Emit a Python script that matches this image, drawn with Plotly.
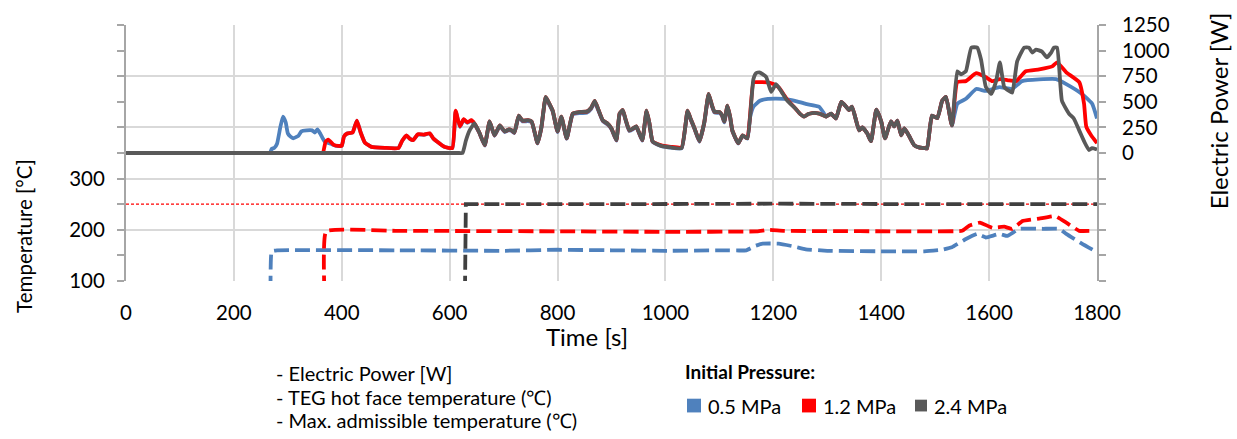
import plotly.graph_objects as go

# ---------------- data ----------------
# Electric power [W], 0.5 MPa
t_p05 = [0, 250, 262, 267, 270, 275, 280, 286, 291, 296, 300, 305, 310, 320, 325, 335, 345, 350, 355, 360, 368, 380, 390, 400,
         404, 410, 420, 428, 435, 443, 455, 480, 505, 512, 520, 526, 532, 541, 552, 563, 570, 577, 590, 605, 611, 619,
         626, 633, 640, 646, 655, 665, 674, 683, 693, 702, 710, 715, 720, 728, 735, 745, 752, 763, 770, 778, 785, 791,
         800, 807, 817, 828, 840, 854, 862, 869, 876, 884, 892, 900, 909, 915, 921, 926, 933, 940, 946, 957, 965, 970,
         976, 985, 994, 1010, 1030, 1041, 1047, 1054, 1063, 1072, 1080, 1086, 1091, 1100, 1105, 1109, 1115, 1120, 1124,
         1135, 1143, 1152, 1157, 1163, 1175, 1190, 1220, 1240, 1260, 1285, 1294, 1298, 1307, 1316, 1326, 1335, 1340,
         1346, 1359, 1365, 1374, 1381, 1391, 1400, 1407, 1418, 1424, 1430, 1437, 1443, 1452, 1461, 1470, 1480, 1485,
         1494, 1504, 1513, 1520, 1531, 1541, 1557, 1576, 1594, 1619, 1643, 1661, 1724, 1743, 1772, 1791, 1800]
p05 = [0, 0, 0, 0, 40, 50, 90, 250, 356, 300, 192, 160, 144, 170, 211, 221, 221, 200, 231, 190, 115, 90, 70, 70,
       160, 190, 200, 317, 200, 100, 60, 50, 48, 120, 170, 140, 125, 180, 178, 190, 140, 110, 60, 48, 405, 255,
       325, 295, 315, 280, 195, 72, 300, 168, 262, 205, 224, 215, 195, 355, 308, 312, 300, 92, 244, 535, 470, 405,
       205, 348, 140, 375, 390, 392, 430, 495, 410, 310, 282, 232, 120, 375, 410, 322, 215, 233, 253, 120, 405, 292,
       110, 82, 65, 53, 46, 405, 322, 233, 110, 292, 565, 460, 395, 392, 362, 300, 452, 342, 215,
       92, 168, 140, 350, 452, 510, 529, 529, 510, 480, 452, 385, 356, 385, 337, 500, 452, 420,
       452, 221, 250, 192, 115, 423, 308, 144, 308, 260, 317, 173, 240, 163, 77, 55, 48, 45,
       365, 340, 510, 548, 269, 481, 529, 625, 606, 644, 625, 702, 721, 673, 577, 481, 337]

# Electric power [W], 1.2 MPa
t_p12 = [0, 340, 358, 365, 370, 375, 385, 393, 400, 404, 410, 420, 428, 435, 443, 455, 480, 505, 512, 520, 526, 532, 541, 552,
         563, 570, 577, 590, 605, 611, 619, 626, 633, 640, 646, 655, 665, 674, 683, 693, 702, 710, 715, 720, 728, 735,
         745, 752, 763, 770, 778, 785, 791, 800, 807, 817, 828, 840, 854, 862, 869, 876, 884, 892, 900, 909, 915, 921,
         926, 933, 940, 946, 957, 965, 970, 976, 985, 994, 1010, 1030, 1041, 1047, 1054, 1063, 1072, 1080, 1086, 1091,
         1100, 1105, 1109, 1115, 1120, 1124, 1135, 1143, 1152, 1163, 1170, 1190, 1200, 1210, 1226, 1240, 1250, 1257,
         1265, 1272, 1285, 1298, 1307, 1316, 1326, 1335, 1340, 1346, 1359, 1365, 1374, 1381, 1391, 1400, 1407, 1418,
         1424, 1430, 1437, 1443, 1452, 1461, 1470, 1480, 1485, 1494, 1504, 1513, 1520, 1531, 1541, 1557, 1576, 1594,
         1606, 1620, 1635, 1650, 1668, 1693, 1717, 1726, 1743, 1767, 1776, 1780, 1789, 1800]
p12 = [0, 0, 0, 0, 110, 130, 80, 70, 70, 160, 190, 200, 317, 200, 100, 60, 50, 48, 120, 173, 140, 125, 183, 180,
       192, 140, 110, 60, 48, 413, 260, 330, 300, 320, 288, 200, 77, 308, 173, 269, 211, 230, 221, 200, 365, 317,
       320, 308, 96, 250, 548, 480, 413, 211, 356, 144, 385, 400, 404, 440, 510, 420, 317, 290, 240, 125, 385, 420,
       330, 221, 240, 260, 125, 413, 300, 115, 88, 72, 60, 55, 413, 330, 240, 115, 300, 577, 470, 404,
       400, 370, 308, 462, 350, 221, 96, 173, 144, 690, 692, 690, 673, 640, 520, 440, 380, 356,
       380, 390, 385, 356, 385, 337, 500, 452, 420, 452, 221, 250, 192, 115, 423, 308, 144, 308,
       260, 317, 173, 240, 163, 77, 55, 48, 45, 365, 340, 510, 548, 269, 692, 702, 779, 740,
       702, 721, 710, 702, 798, 817, 846, 885, 788, 692, 481, 260, 173, 96]

# Electric power [W], 2.4 MPa
t_p24 = [0, 600, 618, 624, 630, 637, 646, 655, 665, 674, 683, 693, 702, 710, 715, 720, 728, 735, 745, 752, 763, 770, 778, 785,
         791, 800, 807, 817, 828, 840, 854, 862, 869, 876, 884, 892, 900, 909, 915, 921, 926, 933, 940, 946, 957, 965,
         970, 976, 985, 994, 1010, 1030, 1041, 1047, 1054, 1063, 1072, 1080, 1086, 1091, 1100, 1105, 1109, 1115, 1120,
         1124, 1135, 1143, 1152, 1163, 1168, 1174, 1180, 1187, 1196, 1205, 1215, 1226, 1240, 1250, 1257, 1265, 1272,
         1285, 1298, 1307, 1316, 1326, 1335, 1340, 1346, 1359, 1365, 1374, 1381, 1391, 1400, 1407, 1418, 1424, 1430,
         1437, 1443, 1452, 1461, 1470, 1480, 1485, 1494, 1504, 1513, 1520, 1531, 1541, 1548, 1557, 1567, 1578, 1585,
         1594, 1604, 1613, 1620, 1628, 1637, 1643, 1652, 1665, 1674, 1680, 1687, 1698, 1707, 1715, 1720, 1726, 1735,
         1748, 1757, 1767, 1776, 1785, 1791, 1800]
p24 = [0, 0, 0, 0, 120, 221, 288, 200, 77, 308, 173, 269, 211, 230, 221, 200, 365, 317, 320, 308, 96, 250, 548, 480,
       413, 211, 356, 144, 385, 400, 404, 440, 510, 420, 317, 290, 240, 125, 385, 420, 330, 221, 240, 260, 125, 413,
       300, 115, 85, 67, 55, 48, 413, 330, 240, 115, 300, 577, 470, 404, 400, 370, 308, 462, 350,
       221, 96, 173, 144, 721, 780, 788, 770, 740, 596, 673, 600, 510, 440, 380, 356, 380, 390,
       385, 356, 385, 337, 500, 452, 420, 452, 221, 250, 192, 115, 423, 308, 144, 308, 260, 317,
       173, 240, 163, 77, 55, 48, 45, 365, 340, 510, 548, 269, 798, 769, 800, 1029, 1029, 913,
       644, 577, 702, 885, 644, 606, 590, 894, 1029, 1029, 981, 1010, 990, 933, 980, 1029, 1029, 510,
       385, 337, 221, 115, 29, 48, 35]

# TEG hot face temperature [°C]
t_T05 = [268, 270, 280, 500, 700, 800, 900, 1000, 1100, 1150, 1165, 1180, 1210, 1240, 1260, 1300, 1400, 1480,
         1513, 1531, 1557, 1578, 1594, 1619, 1634, 1656, 1700, 1730, 1743, 1772, 1797]
T05 = [40, 158, 160, 160, 159, 161, 160, 159, 160, 160, 168, 173, 173, 167, 162, 159, 158, 158,
       161, 166, 182, 192, 185, 192, 188, 202, 202, 202, 192, 173, 158]

t_T12 = [369, 371, 500, 800, 1000, 1170, 1190, 1220, 1500, 1550, 1563, 1583, 1606, 1628, 1643, 1662, 1693, 1722,
         1743, 1767, 1791]
T12 = [40, 197, 198, 197, 196, 197, 200, 198, 197, 198, 208, 214, 204, 206, 202, 217, 222, 227,
       214, 198, 198]

t_T24 = [628, 630, 900, 1200, 1500, 1700, 1800]
T24 = [40, 250, 250, 251, 250, 249, 250]

# Max. admissible temperature [°C]
t_Tmax = [0, 1800]
Tmax = [250, 250]

# axis ticks
x_ticks = [0, 200, 400, 600, 800, 1000, 1200, 1400, 1600, 1800]
temp_tickvals = [100, 200, 300, 400, 500, 600]
temp_ticktext = ["100", "200", "300", "", "", ""]
pow_tickvals = [-1250, -1000, -750, -500, -250, 0, 250, 500, 750, 1000, 1250]
pow_ticktext = ["", "", "", "", "", "0", "250", "500", "750", "1000", "1250"]

series_names = ["0.5 MPa", "1.2 MPa", "2.4 MPa"]

# ---------------- style ----------------
C_BLUE = "#4F81BD"
C_RED = "#FF0000"
C_GRAY = "#595959"
FONT = "Lato"
AXIS_GRAY = "#A6A6A6"
GRID = "#D9D9D9"
TICK_SIZE = 20.5

fig = go.Figure()

dash = "15px,6px"
fig.add_trace(go.Scatter(x=t_Tmax, y=Tmax, mode="lines", line=dict(color=C_RED, width=1.2, dash="3px,2px"),
                         showlegend=False, yaxis="y"))
fig.add_trace(go.Scatter(x=t_T05, y=T05, mode="lines", line=dict(color=C_BLUE, width=3.8, dash=dash, shape="spline", smoothing=0.3),
                         showlegend=False, yaxis="y"))
fig.add_trace(go.Scatter(x=t_T12, y=T12, mode="lines", line=dict(color=C_RED, width=3.8, dash=dash, shape="spline", smoothing=0.3),
                         showlegend=False, yaxis="y"))
fig.add_trace(go.Scatter(x=t_T24, y=T24, mode="lines", line=dict(color="#404040", width=3.8, dash=dash),
                         showlegend=False, yaxis="y"))

for tt, pp, col in [(t_p05, p05, C_BLUE), (t_p12, p12, C_RED), (t_p24, p24, C_GRAY)]:
    fig.add_trace(go.Scatter(x=tt, y=pp, mode="lines", line=dict(color=col, width=3.8, shape="spline", smoothing=0.4),
                             showlegend=False, yaxis="y2"))

fig.update_layout(
    width=1237, height=439,
    margin=dict(l=126, r=140, t=20, b=158),
    paper_bgcolor="white", plot_bgcolor="white",
    font=dict(family=FONT, size=TICK_SIZE, color="#000000"),
    showlegend=False,
    xaxis=dict(range=[0, 1800], tickvals=x_ticks, showgrid=True, gridcolor=GRID, gridwidth=1.5,
               showline=False, zeroline=False, ticks="", tickfont=dict(size=TICK_SIZE), ticklabelstandoff=17),
    yaxis=dict(range=[100, 600], tickvals=temp_tickvals, ticktext=temp_ticktext, showgrid=True,
               gridcolor=GRID, gridwidth=1.5, showline=True, linecolor=AXIS_GRAY, linewidth=2,
               ticks="outside", ticklen=7, tickcolor=AXIS_GRAY, tickwidth=2, zeroline=False,
               minor=dict(tickvals=[150, 250, 350, 450, 550], ticks="outside", ticklen=7,
                          tickcolor=AXIS_GRAY, tickwidth=2, showgrid=False),
               tickfont=dict(size=TICK_SIZE), ticklabelstandoff=8),
    yaxis2=dict(range=[-1250, 1250], tickvals=pow_tickvals, ticktext=pow_ticktext, overlaying="y",
                side="right", showgrid=False, showline=True, linecolor=AXIS_GRAY, linewidth=2,
                ticks="outside", ticklen=7, tickcolor=AXIS_GRAY, tickwidth=2, zeroline=False,
                tickfont=dict(size=TICK_SIZE), ticklabelstandoff=12),
)


def px(xp):
    return (xp - 126) / 971.0


def py(yp):
    return (281 - yp) / 261.0


# axis titles
fig.add_annotation(text="Temperature [°C]", xref="paper", yref="paper", x=px(24), y=py(235),
                   textangle=-90, showarrow=False, font=dict(size=20.5), xanchor="center", yanchor="middle")
fig.add_annotation(text="Electric Power [W]", xref="paper", yref="paper", x=px(1218), y=py(108),
                   textangle=-90, showarrow=False, font=dict(size=24), xanchor="center", yanchor="middle")
fig.add_annotation(text="Time [s]", xref="paper", yref="paper", x=px(587), y=py(338),
                   showarrow=False, font=dict(size=24), xanchor="center", yanchor="middle")

# legend block (text)
for txt, yy in [("- Electric Power [W]", 375), ("- TEG hot face temperature (℃)", 399),
                ("- Max. admissible temperature (℃)", 423)]:
    fig.add_annotation(text=txt, xref="paper", yref="paper", x=px(274), y=py(yy), showarrow=False,
                       xanchor="left", yanchor="middle", font=dict(size=20))

fig.add_annotation(text="<b>Initial Pressure:</b>", xref="paper", yref="paper", x=px(683), y=py(373),
                   showarrow=False, xanchor="left", yanchor="middle", font=dict(size=19))

for name, col, x0, sz in zip(series_names, [C_BLUE, C_RED, C_GRAY], [687, 802, 915], [14, 14, 12]):
    fig.add_shape(type="rect", xref="paper", yref="paper", x0=px(x0), x1=px(x0 + sz),
                  y0=py(408 + sz / 2), y1=py(408 - sz / 2), fillcolor=col, line=dict(width=0))
    fig.add_annotation(text=name, xref="paper", yref="paper", x=px(x0 + sz + 5), y=py(408), showarrow=False,
                       xanchor="left", yanchor="middle", font=dict(size=20))

fig.write_html("out.html")
